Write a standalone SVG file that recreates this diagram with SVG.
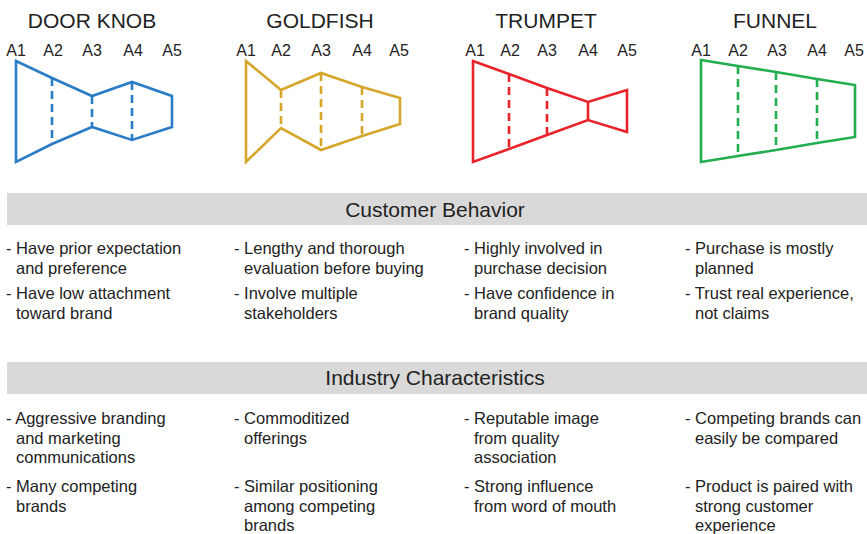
<svg xmlns="http://www.w3.org/2000/svg" width="867" height="534" viewBox="0 0 867 534">
<style>
  text { font-family: "Liberation Sans", Arial, Helvetica, sans-serif; fill: #222; }
  .title { font-size: 21px; text-anchor: middle; }
  .lbl { font-size: 16px; text-anchor: middle; }
  .band { fill: #d9d9d9; }
  .bandt { font-size: 21px; text-anchor: middle; }
  .body { font-size: 16.5px; }
  .shape { fill: none; stroke-width: 2.6; stroke-linejoin: miter; }
  .dash { fill: none; stroke-width: 2.6; stroke-dasharray: 8 5; }
  .blue { stroke: #2b7cc6; }
  .gold { stroke: #d5a62a; }
  .red { stroke: #e8232a; }
  .green { stroke: #22ad4e; }
</style>
<rect width="867" height="534" fill="#ffffff"/>

<g id="door-knob">
  <text class="title" x="92" y="28">DOOR KNOB</text>
  <text class="lbl" x="16" y="56">A1</text>
  <text class="lbl" x="53" y="56">A2</text>
  <text class="lbl" x="92" y="56">A3</text>
  <text class="lbl" x="133" y="56">A4</text>
  <text class="lbl" x="172" y="56">A5</text>
  <polygon class="shape blue" points="16,61 52,78 92,96 132,82 172,96 172,127 132,140 92,127 52,144 16,162"/>
  <line class="dash blue" x1="52" y1="78" x2="52" y2="144"/>
  <line class="dash blue" x1="92" y1="96" x2="92" y2="127"/>
  <line class="dash blue" x1="132" y1="82" x2="132" y2="140"/>
</g>

<g id="goldfish">
  <text class="title" x="320" y="28">GOLDFISH</text>
  <text class="lbl" x="246" y="56">A1</text>
  <text class="lbl" x="281" y="56">A2</text>
  <text class="lbl" x="321" y="56">A3</text>
  <text class="lbl" x="362" y="56">A4</text>
  <text class="lbl" x="399" y="56">A5</text>
  <polygon class="shape gold" points="246,61 281,90 321,73 362,87 400,98 400,124 362,136 321,150 281,128 246,162"/>
  <line class="dash gold" x1="281" y1="90" x2="281" y2="128"/>
  <line class="dash gold" x1="321" y1="73" x2="321" y2="150"/>
  <line class="dash gold" x1="362" y1="87" x2="362" y2="136"/>
</g>

<g id="trumpet">
  <text class="title" x="546" y="28">TRUMPET</text>
  <text class="lbl" x="475" y="56">A1</text>
  <text class="lbl" x="510" y="56">A2</text>
  <text class="lbl" x="547" y="56">A3</text>
  <text class="lbl" x="588" y="56">A4</text>
  <text class="lbl" x="627" y="56">A5</text>
  <polygon class="shape red" points="473,61 509,74 547,88 588,102 627,90 627,132 588,120 547,135 509,149 473,162"/>
  <line class="dash red" x1="509" y1="74" x2="509" y2="149"/>
  <line class="dash red" x1="547" y1="88" x2="547" y2="135"/>
  <line class="shape red" x1="588" y1="102" x2="588" y2="120"/>
</g>

<g id="funnel">
  <text class="title" x="775" y="28">FUNNEL</text>
  <text class="lbl" x="701" y="56">A1</text>
  <text class="lbl" x="738" y="56">A2</text>
  <text class="lbl" x="777" y="56">A3</text>
  <text class="lbl" x="817" y="56">A4</text>
  <text class="lbl" x="854" y="56">A5</text>
  <polygon class="shape green" points="701,60 738,66 776,72 817,79 855,85 855,137 817,143 776,150 738,156 701,162"/>
  <line class="dash green" x1="738" y1="66" x2="738" y2="156"/>
  <line class="dash green" x1="776" y1="72" x2="776" y2="150"/>
  <line class="dash green" x1="817" y1="79" x2="817" y2="143"/>
</g>

<g id="customer-behavior">
  <rect class="band" x="7" y="193" width="860" height="32"/>
  <text class="bandt" x="435" y="217">Customer Behavior</text>
  <text class="body" x="6" y="254">- Have prior expectation</text>
  <text class="body" x="16" y="274">and preference</text>
  <text class="body" x="6" y="299">- Have low attachment</text>
  <text class="body" x="16" y="319">toward brand</text>

  <text class="body" x="234" y="254">- Lengthy and thorough</text>
  <text class="body" x="244" y="274">evaluation before buying</text>
  <text class="body" x="234" y="299">- Involve multiple</text>
  <text class="body" x="244" y="319">stakeholders</text>

  <text class="body" x="464" y="254">- Highly involved in</text>
  <text class="body" x="474" y="274">purchase decision</text>
  <text class="body" x="464" y="299">- Have confidence in</text>
  <text class="body" x="474" y="319">brand quality</text>

  <text class="body" x="685" y="254">- Purchase is mostly</text>
  <text class="body" x="695" y="274">planned</text>
  <text class="body" x="685" y="299">- Trust real experience,</text>
  <text class="body" x="695" y="319">not claims</text>
</g>

<g id="industry-characteristics">
  <rect class="band" x="7" y="362" width="860" height="32"/>
  <text class="bandt" x="435" y="385">Industry Characteristics</text>
  <text class="body" x="6" y="424">- Aggressive branding</text>
  <text class="body" x="16" y="444">and marketing</text>
  <text class="body" x="16" y="463">communications</text>
  <text class="body" x="6" y="492">- Many competing</text>
  <text class="body" x="16" y="512">brands</text>

  <text class="body" x="234" y="424">- Commoditized</text>
  <text class="body" x="244" y="444">offerings</text>
  <text class="body" x="234" y="492">- Similar positioning</text>
  <text class="body" x="244" y="512">among competing</text>
  <text class="body" x="244" y="531">brands</text>

  <text class="body" x="464" y="424">- Reputable image</text>
  <text class="body" x="474" y="444">from quality</text>
  <text class="body" x="474" y="463">association</text>
  <text class="body" x="464" y="492">- Strong influence</text>
  <text class="body" x="474" y="512">from word of mouth</text>

  <text class="body" x="685" y="424">- Competing brands can</text>
  <text class="body" x="695" y="444">easily be compared</text>
  <text class="body" x="685" y="492">- Product is paired with</text>
  <text class="body" x="695" y="512">strong customer</text>
  <text class="body" x="695" y="531">experience</text>
</g>
</svg>
